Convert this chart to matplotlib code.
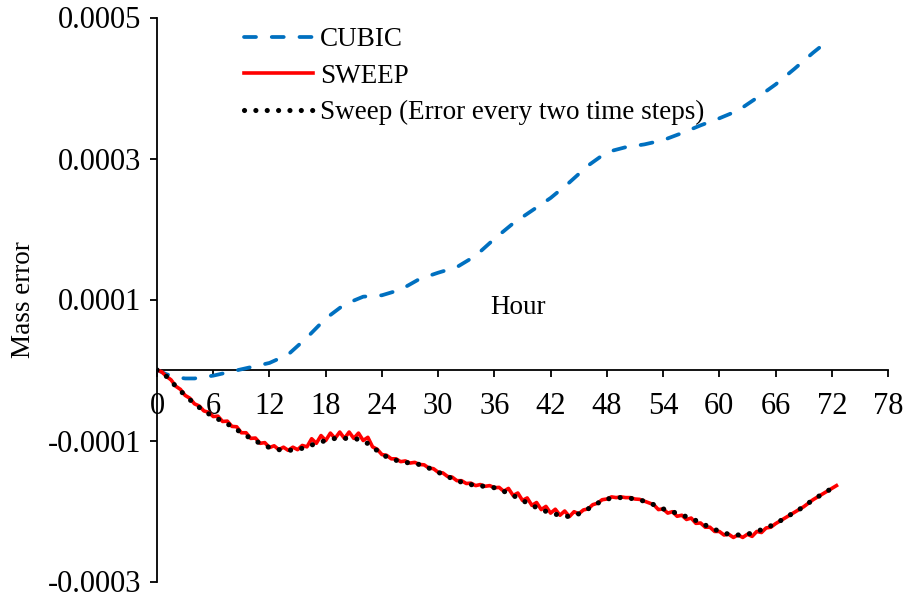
import matplotlib
matplotlib.use("Agg")
import matplotlib.pyplot as plt
import numpy as np

plt.rcParams['font.family'] = ['Liberation Serif', 'DejaVu Serif']

SCALE = 1e-5

# CUBIC mass error (units of 1e-5)
cubic_hours = [0, 1, 2, 3, 4, 5, 6, 8, 10, 12, 14, 16, 18, 20, 22, 24, 26, 28, 30, 32,
               34, 36, 38, 40, 42, 44, 46, 48, 50, 52, 54, 56, 58, 60, 62, 64, 66, 68, 70, 71.5]
cubic_vals = [0, -0.6, -1.0, -1.2, -1.2, -1.0, -0.8, -0.2, 0.4, 1.0, 2.2, 4.6, 7.3, 9.3, 10.4,
              10.6, 11.4, 12.9, 13.8, 14.6, 16.2, 18.6, 20.8, 22.6, 24.4, 26.6, 29.0, 30.9,
              31.6, 32.0, 32.6, 33.6, 34.7, 35.7, 36.8, 38.6, 40.5, 42.7, 45.0, 46.6]

# SWEEP at whole hours (every two time steps), units of 1e-5
sweep_hours = list(range(0, 73))
sweep_whole = [0, -0.9, -2.3, -3.6, -4.8, -5.8, -6.6, -7.3, -8.0, -8.9,
               -9.7, -10.4, -11.0, -11.3, -11.4, -11.3, -10.9, -10.4, -10.0, -9.7,
               -9.7, -9.7, -10.0, -10.9, -12.0, -12.6, -13.0, -13.2, -13.4, -13.9,
               -14.5, -15.1, -15.7, -16.1, -16.4, -16.5, -16.7, -17.2, -17.8, -18.5,
               -19.2, -19.8, -20.3, -20.6, -20.8, -20.4, -19.7, -18.9, -18.3, -18.1,
               -18.1, -18.3, -18.6, -19.1, -19.7, -20.1, -20.6, -21.0, -21.7, -22.3,
               -22.9, -23.3, -23.4, -23.3, -22.9, -22.4, -21.8, -21.0, -20.2, -19.4,
               -18.4, -17.6, -16.8]
# SWEEP at the intermediate half-hour time steps (0.5, 1.5, ..., 72.5)
sweep_half_hours = [h + 0.5 for h in range(0, 73)]
sweep_half = [-0.25, -1.4, -2.75, -4.0, -5.1, -6.0, -6.55, -7.25, -8.05, -8.9,
              -9.65, -10.3, -10.75, -10.95, -10.95, -10.7, -9.75, -9.3, -8.95, -8.8,
              -8.8, -8.95, -9.55, -11.25, -12.1, -12.6, -12.9, -13.1, -13.45, -14.0,
              -14.6, -15.2, -15.7, -16.05, -16.25, -16.4, -16.65, -16.8, -17.45, -18.15,
              -18.8, -19.35, -19.75, -20.0, -20.1, -19.85, -19.1, -18.4, -18.0, -18.0,
              -18.1, -18.35, -18.85, -19.8, -20.3, -20.75, -21.2, -21.75, -22.3, -22.9,
              -23.4, -23.75, -23.75, -23.6, -23.05, -22.3, -21.4, -20.6, -19.8, -18.9,
              -18.0, -17.2, -16.4]

x_ticks = [0, 6, 12, 18, 24, 30, 36, 42, 48, 54, 60, 66, 72, 78]
y_ticks = [-0.0003, -0.0001, 0.0001, 0.0003, 0.0005]
y_ticklabels = ['-0.0003', '-0.0001', '0.0001', '0.0003', '0.0005']

# full sweep series (every time step)
sweep_t = []
sweep_v = []
for i in range(len(sweep_hours)):
    sweep_t.append(sweep_hours[i]); sweep_v.append(sweep_whole[i])
    sweep_t.append(sweep_half_hours[i]); sweep_v.append(sweep_half[i])

fig = plt.figure(figsize=(9.12, 5.99), dpi=100)
ax = fig.add_axes([157/912, 1-581.5/599, (888-157)/912, (581.5-17.5)/599])

ax.plot(cubic_hours, np.array(cubic_vals)*SCALE, color='#0070C0', lw=2.7,
        linestyle=(0, (3.2, 4.2)), dash_capstyle='round', label='CUBIC', zorder=3)
ax.plot(sweep_t, np.array(sweep_v)*SCALE, color='#FF0000', lw=2.6, label='SWEEP',
        solid_joinstyle='round', zorder=4)
ax.plot(sweep_hours, np.array(sweep_whole)*SCALE, color='black', lw=3.7,
        linestyle=(0, (0.01, 2.2)), dash_capstyle='round',
        label='Sweep (Error every two time steps)', zorder=5)

ax.set_xlim(0, 78)
ax.set_ylim(-0.0003, 0.0005)
ax.spines['top'].set_visible(False)
ax.spines['right'].set_visible(False)
ax.spines['bottom'].set_position(('data', 0))
for s in ('left', 'bottom'):
    ax.spines[s].set_linewidth(1.3)
ax.set_xticks(x_ticks)
ax.set_xticklabels([str(t) for t in x_ticks])
ax.set_yticks(y_ticks)
ax.set_yticklabels(y_ticklabels)
ax.tick_params(axis='x', direction='out', length=5, width=1.3, labelsize=22, pad=11)
ax.tick_params(axis='y', direction='out', length=5, width=1.3, labelsize=22, pad=6)

ax.set_ylabel('Mass error', fontsize=19.5, labelpad=9)
ax.text(38.5, 0.89e-4, 'Hour', fontsize=19.5, ha='center', va='center')

leg = ax.legend(loc='upper left', bbox_to_anchor=(244/912, 1-27.5/599),
                bbox_transform=fig.transFigure, frameon=False, fontsize=19.5,
                handlelength=2.55, handletextpad=0.26, labelspacing=0.42,
                borderpad=0, borderaxespad=0)

fig.savefig('out.png', dpi=100)
